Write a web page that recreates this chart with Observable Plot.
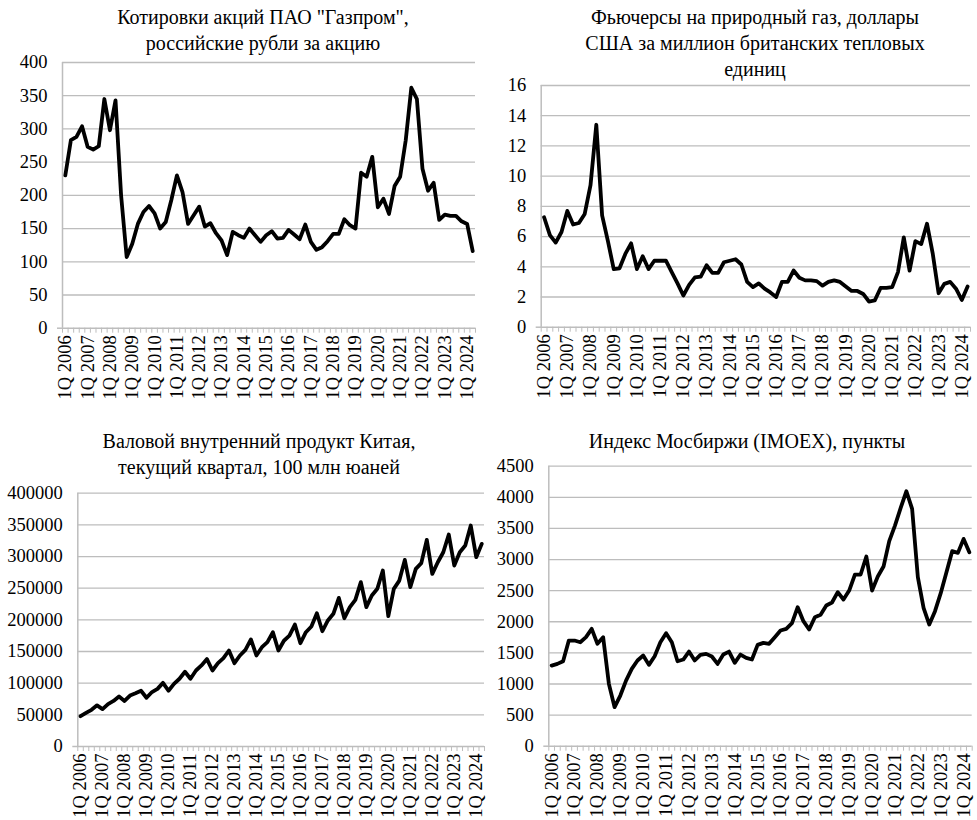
<!DOCTYPE html>
<html><head><meta charset="utf-8">
<script src="https://cdn.jsdelivr.net/npm/d3@7"></script>
<script src="https://cdn.jsdelivr.net/npm/@observablehq/plot@0.6"></script>
<style>
body{margin:0;background:#fff;}
#wrap{position:relative;width:977px;height:820px;overflow:hidden;font-family:"Liberation Serif","Times New Roman",serif;color:#000;background:#fff;}
.panel{position:absolute;}
.title{position:absolute;font-size:20px;line-height:26px;text-align:center;white-space:nowrap;transform:translateX(-50%);z-index:2;}
</style></head><body><div id="wrap"></div>
<script>
const categories = [
"1Q 2006","2Q 2006","3Q 2006","4Q 2006","1Q 2007","2Q 2007","3Q 2007","4Q 2007",
"1Q 2008","2Q 2008","3Q 2008","4Q 2008","1Q 2009","2Q 2009","3Q 2009","4Q 2009",
"1Q 2010","2Q 2010","3Q 2010","4Q 2010","1Q 2011","2Q 2011","3Q 2011","4Q 2011",
"1Q 2012","2Q 2012","3Q 2012","4Q 2012","1Q 2013","2Q 2013","3Q 2013","4Q 2013",
"1Q 2014","2Q 2014","3Q 2014","4Q 2014","1Q 2015","2Q 2015","3Q 2015","4Q 2015",
"1Q 2016","2Q 2016","3Q 2016","4Q 2016","1Q 2017","2Q 2017","3Q 2017","4Q 2017",
"1Q 2018","2Q 2018","3Q 2018","4Q 2018","1Q 2019","2Q 2019","3Q 2019","4Q 2019",
"1Q 2020","2Q 2020","3Q 2020","4Q 2020","1Q 2021","2Q 2021","3Q 2021","4Q 2021",
"1Q 2022","2Q 2022","3Q 2022","4Q 2022","1Q 2023","2Q 2023","3Q 2023","4Q 2023",
"1Q 2024","2Q 2024"];

const tickLabels = ["1Q 2006","1Q 2007","1Q 2008","1Q 2009","1Q 2010","1Q 2011","1Q 2012",
"1Q 2013","1Q 2014","1Q 2015","1Q 2016","1Q 2017","1Q 2018","1Q 2019","1Q 2020",
"1Q 2021","1Q 2022","1Q 2023","1Q 2024"];

// Gazprom share price, RUB
const gazprom = [230,283,288,304,273,269,274,345,298,343,
200,107,127,157,175,184,173,150,160,193,
230,205,157,170,183,153,158,143,132,110,
145,140,136,150,140,130,140,146,135,136,
148,141,134,156,130,118,122,131,142,142,
164,155,150,234,228,258,182,195,172,214,
228,283,362,345,240,207,219,163,171,169,
169,161,157,116];

// Natural gas futures, USD per MMBtu
const gas = [7.28,6.1,5.6,6.3,7.7,6.8,6.9,7.5,9.4,13.4,
7.4,5.7,3.85,3.9,4.85,5.55,3.85,4.7,3.85,4.4,
4.4,4.4,3.65,2.9,2.1,2.8,3.3,3.35,4.1,3.6,
3.6,4.3,4.4,4.5,4.15,3.0,2.65,2.9,2.55,2.3,
2.0,3.0,3.0,3.75,3.27,3.1,3.1,3.05,2.75,3.0,
3.1,3.0,2.7,2.4,2.4,2.2,1.7,1.77,2.6,2.6,
2.65,3.65,5.95,3.75,5.7,5.5,6.85,4.85,2.25,2.87,
3.0,2.55,1.8,2.7];

// China GDP, current quarter, 100 mln yuan
const gdp = [47900,53000,58000,65000,59000,67000,72000,79000,72000,80500,
84000,88000,77000,86000,91000,100500,88000,99000,107000,118000,
107000,120000,128000,138000,120000,131600,139500,151600,131600,143700,
152600,169000,143700,156800,164700,180500,151600,167000,175000,192600,
163000,180500,189500,210500,182000,199000,209500,234700,202600,220000,
231600,259500,220000,238400,249000,277900,205800,249000,262000,294700,
251600,280500,289500,326300,272600,291000,306800,334700,285800,306800,
317400,349000,299000,320000];

// MOEX index, points
const moex = [1296,1323,1366,1698,1698,1671,1752,1886,1645,1752,
1002,627,814,1055,1243,1377,1457,1307,1446,1671,
1816,1671,1366,1393,1521,1377,1468,1484,1441,1323,
1473,1521,1339,1473,1420,1393,1628,1661,1645,1752,
1859,1886,1977,2234,2009,1875,2073,2111,2261,2309,
2475,2357,2502,2759,2759,3048,2502,2727,2887,3295,
3546,3830,4098,3814,2716,2223,1955,2170,2459,2796,
3134,3107,3332,3118];

const yTicks1 = [0,50,100,150,200,250,300,350,400];
const yTicks2 = [0,2,4,6,8,10,12,14,16];
const yTicks3 = [0,50000,100000,150000,200000,250000,300000,350000,400000];
const yTicks4 = [0,500,1000,1500,2000,2500,3000,3500,4000,4500];

const titles = [
  {lines:['Котировки акций ПАО "Газпром",','российские рубли за акцию'], cx:263, top:4},
  {lines:['Фьючерсы на природный газ, доллары','США за миллион британских тепловых','единиц'], cx:755, top:4},
  {lines:['Валовой внутренний продукт Китая,','текущий квартал, 100 млн юаней'], cx:259, top:428},
  {lines:['Индекс Мосбиржи (IMOEX), пункты'], cx:747, top:428}
];

const wrap = document.getElementById("wrap");
const grid = "#bdbdbd";
const n = categories.length;
const labelPos = tickLabels.map(l => categories.indexOf(l) + 0.5);

function panel({values, yTicks, left, top, width, height, mL, mR, mT, mB}) {
  const data = values.map((v, i) => ({i: i + 0.5, v}));
  const yMax = yTicks[yTicks.length - 1];
  const svg = Plot.plot({
    width, height,
    marginLeft: mL, marginRight: mR, marginTop: mT, marginBottom: mB,
    style: {fontFamily: '"Liberation Serif","Times New Roman",serif', fontSize: "18.5px", color: "#000", background: "transparent", overflow: "visible"},
    x: {domain: [0, n], axis: null},
    y: {domain: [0, yMax], axis: null},
    marks: [
      Plot.ruleY(yTicks.filter(t => t > 0), {stroke: grid, strokeWidth: 1.3}),
      Plot.ruleX([0], {stroke: grid, strokeWidth: 1.5}),
      Plot.ruleY([0], {stroke: grid, strokeWidth: 1.5}),
      Plot.ruleY([0], {x1: 0, x2: 1, dx: -5, stroke: grid, strokeWidth: 1.5}),
      Plot.axisX(d3.range(0, n + 1), {tickSize: 5, tickFormat: () => "", label: null, stroke: grid, strokeWidth: 1}),
      Plot.axisX(labelPos, {tickSize: 0, tickPadding: 7, tickRotate: -90, label: null, tickFormat: d => categories[Math.round(d - 0.5)], fill: "#000"}),
      Plot.axisY(yTicks, {tickSize: 0, tickPadding: 15, label: null, tickFormat: d => String(d), fill: "#000"}),
      Plot.line(data, {x: "i", y: "v", stroke: "#000", strokeWidth: 3.8, strokeLinejoin: "round", strokeLinecap: "round"})
    ]
  });
  const div = document.createElement("div");
  div.className = "panel";
  div.style.left = left + "px";
  div.style.top = top + "px";
  div.appendChild(svg);
  wrap.appendChild(div);
}

panel({values: gazprom, yTicks: yTicks1, left: 0, top: 0, width: 490, height: 440, mL: 62, mR: 15, mT: 62, mB: 112.3});
panel({values: gas, yTicks: yTicks2, left: 490, top: 0, width: 487, height: 440, mL: 50.7, mR: 7, mT: 85, mB: 113.3});
panel({values: gdp, yTicks: yTicks3, left: 0, top: 420, width: 490, height: 400, mL: 77.3, mR: 6, mT: 72.7, mB: 74});
panel({values: moex, yTicks: yTicks4, left: 490, top: 420, width: 487, height: 400, mL: 58.3, mR: 5.3, mT: 45.7, mB: 74.3});

for (const t of titles) {
  const d = document.createElement("div");
  d.className = "title";
  d.style.left = t.cx + "px";
  d.style.top = t.top + "px";
  d.innerHTML = t.lines.map(s => s.replace(/&/g, "&amp;").replace(/</g, "&lt;")).join("<br>");
  wrap.appendChild(d);
}
</script></body></html>
